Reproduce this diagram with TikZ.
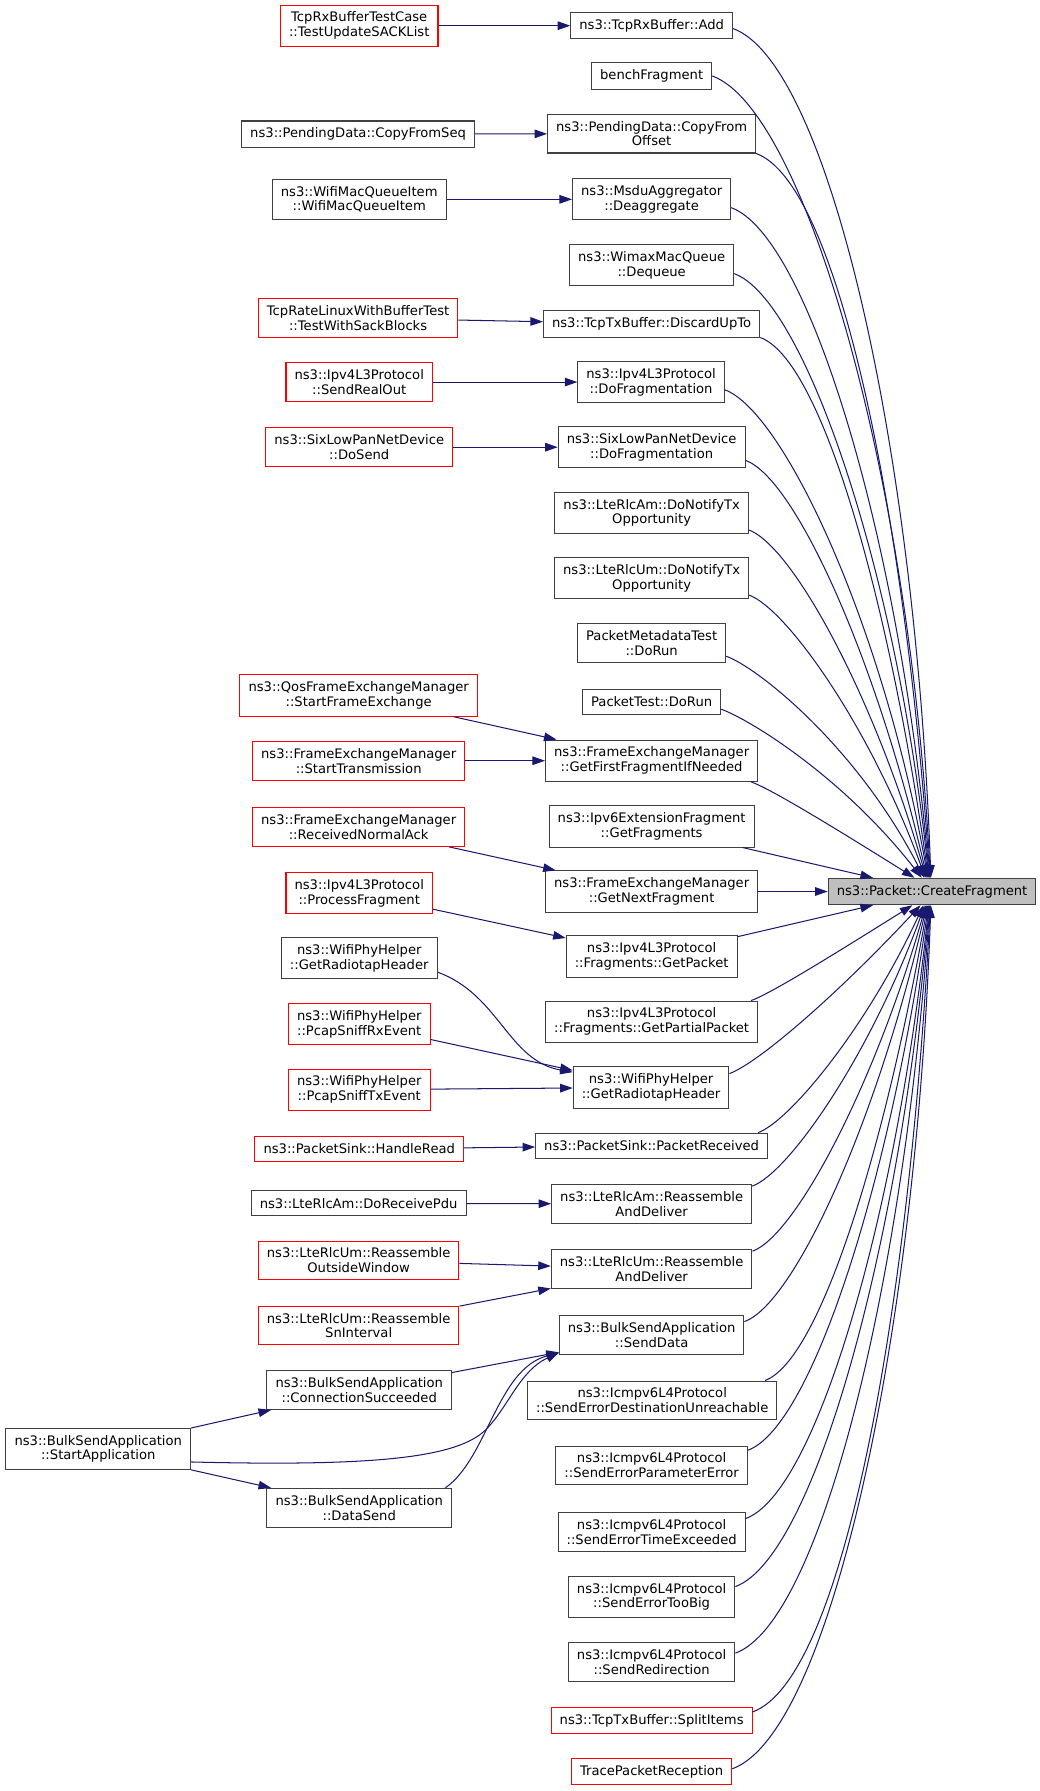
\documentclass[tikz,border=0pt]{standalone}
\usepackage{fontspec}
\setmainfont{DejaVu Sans}
\usetikzlibrary{arrows.meta}
\definecolor{edgeblue}{HTML}{191970}
\definecolor{boxgrey}{HTML}{404040}
\definecolor{mainfill}{HTML}{BFBFBF}
\tikzset{
    fn/.style={draw=boxgrey, line width=0.9pt, fill=white, align=center, inner xsep=7.5pt, inner ysep=6pt, minimum height=22pt, font=\fontsize{11.5}{13}\selectfont},
    fnred/.style={fn, draw=red},
    fnmain/.style={fn, fill=mainfill},
    call/.style={edgeblue, line width=0.9pt, -{Triangle[length=11pt, width=7.5pt]}},
    fromabove/.style={out=-20, in=#1, out looseness=0.3, in looseness=1.25},
    frombelow/.style={out=20, in=#1, out looseness=0.3, in looseness=1.25}
}
\begin{document}
\begin{tikzpicture}[x=1pt, y=1pt]
            \useasboundingbox (0, 0) rectangle (910.5, -1568);
            \node[fnmain] (cf) at (816, -780.5) {ns3::Packet::CreateFragment};
            \node[fn] (add) at (570.5, -22.5) {ns3::TcpRxBuffer::Add};
            \node[fn] (bench) at (570.5, -66.5) {benchFragment};
            \node[fn] (copyoff) at (570.5, -117) {ns3::PendingData::CopyFrom\\Offset};
            \node[fn] (deagg) at (570.5, -174.5) {ns3::MsduAggregator\\::Deaggregate};
            \node[fn] (dequeue) at (570.5, -232) {ns3::WimaxMacQueue\\::Dequeue};
            \node[fn] (discard) at (570.5, -283.5) {ns3::TcpTxBuffer::DiscardUpTo};
            \node[fn] (ipv4frag) at (570, -334.5) {ns3::Ipv4L3Protocol\\::DoFragmentation};
            \node[fn] (sixfrag) at (570.5, -391.5) {ns3::SixLowPanNetDevice\\::DoFragmentation};
            \node[fn] (amtx) at (570.5, -449) {ns3::LteRlcAm::DoNotifyTx\\Opportunity};
            \node[fn] (umtx) at (570.5, -506) {ns3::LteRlcUm::DoNotifyTx\\Opportunity};
            \node[fn] (metarun) at (570.5, -563) {PacketMetadataTest\\::DoRun};
            \node[fn] (pktrun) at (570.5, -614.5) {PacketTest::DoRun};
            \node[fn] (firstfrag) at (570.5, -666) {ns3::FrameExchangeManager\\::GetFirstFragmentIfNeeded};
            \node[fn] (v6frags) at (570.5, -723.5) {ns3::Ipv6ExtensionFragment\\::GetFragments};
            \node[fn] (nextfrag) at (570.5, -780.5) {ns3::FrameExchangeManager\\::GetNextFragment};
            \node[fn] (getpkt) at (570.5, -837.5) {ns3::Ipv4L3Protocol\\::Fragments::GetPacket};
            \node[fn] (partpkt) at (570.5, -894.5) {ns3::Ipv4L3Protocol\\::Fragments::GetPartialPacket};
            \node[fn] (radiohdr) at (570, -952) {ns3::WifiPhyHelper\\::GetRadiotapHeader};
            \node[fn] (pktrecv) at (570.5, -1003) {ns3::PacketSink::PacketReceived};
            \node[fn] (amreasm) at (570.5, -1054) {ns3::LteRlcAm::Reassemble\\AndDeliver};
            \node[fn] (umreasm) at (570.5, -1111) {ns3::LteRlcUm::Reassemble\\AndDeliver};
            \node[fn] (senddata) at (570.5, -1168.5) {ns3::BulkSendApplication\\::SendData};
            \node[fn] (errdest) at (571, -1226) {ns3::Icmpv6L4Protocol\\::SendErrorDestinationUnreachable};
            \node[fn] (errparam) at (570.5, -1283) {ns3::Icmpv6L4Protocol\\::SendErrorParameterError};
            \node[fn] (errtime) at (570.5, -1341) {ns3::Icmpv6L4Protocol\\::SendErrorTimeExceeded};
            \node[fn] (errbig) at (570.5, -1398) {ns3::Icmpv6L4Protocol\\::SendErrorTooBig};
            \node[fn] (redirect) at (570.5, -1455) {ns3::Icmpv6L4Protocol\\::SendRedirection};
            \node[fnred] (splititems) at (570.5, -1506.5) {ns3::TcpTxBuffer::SplitItems};
            \node[fnred] (tracerx) at (570.5, -1551) {TracePacketReception};
            \node[fnred] (sacktest) at (314.5, -22.5) {TcpRxBufferTestCase\\::TestUpdateSACKList};
            \node[fn] (copyseq) at (313.5, -117.5) {ns3::PendingData::CopyFromSeq};
            \node[fn] (macitem) at (314.5, -174.5) {ns3::WifiMacQueueItem\\::WifiMacQueueItem};
            \node[fnred] (sackblocks) at (313.5, -278.5) {TcpRateLinuxWithBufferTest\\::TestWithSackBlocks};
            \node[fnred] (sendrealout) at (314.5, -334.5) {ns3::Ipv4L3Protocol\\::SendRealOut};
            \node[fnred] (dosend) at (314.5, -391.5) {ns3::SixLowPanNetDevice\\::DoSend};
            \node[fnred] (qosstart) at (314, -609) {ns3::QosFrameExchangeManager\\::StartFrameExchange};
            \node[fnred] (femstart) at (314, -666) {ns3::FrameExchangeManager\\::StartTransmission};
            \node[fnred] (normalack) at (314, -724) {ns3::FrameExchangeManager\\::ReceivedNormalAck};
            \node[fnred] (procfrag) at (314.5, -782) {ns3::Ipv4L3Protocol\\::ProcessFragment};
            \node[fn] (radiohdrold) at (314.5, -839) {ns3::WifiPhyHelper\\::GetRadiotapHeader};
            \node[fnred] (rxevent) at (314.5, -896.5) {ns3::WifiPhyHelper\\::PcapSniffRxEvent};
            \node[fnred] (txevent) at (314.5, -954) {ns3::WifiPhyHelper\\::PcapSniffTxEvent};
            \node[fnred] (handleread) at (314.5, -1006) {ns3::PacketSink::HandleRead};
            \node[fn] (recvpdu) at (314, -1053.5) {ns3::LteRlcAm::DoReceivePdu};
            \node[fnred] (outsidewin) at (314, -1103.5) {ns3::LteRlcUm::Reassemble\\OutsideWindow};
            \node[fnred] (sninterval) at (314, -1160.5) {ns3::LteRlcUm::Reassemble\\SnInterval};
            \node[fn] (connok) at (314.5, -1217) {ns3::BulkSendApplication\\::ConnectionSucceeded};
            \node[fn] (datasend) at (314.5, -1320) {ns3::BulkSendApplication\\::DataSend};
            \node[fn] (startapp) at (86, -1268.5) {ns3::BulkSendApplication\\::StartApplication};
            \draw[call] (add.-2) to[fromabove=92] (cf.95);
            \draw[call] (bench.east) to[fromabove=93] (cf.97);
            \draw[call] (copyoff.south east) to[fromabove=94] (cf.99);
            \draw[call] (deagg.-6) to[fromabove=95] (cf.101);
            \draw[call] (dequeue.-6) to[fromabove=96] (cf.103);
            \draw[call] (discard.south east) to[fromabove=98] (cf.105);
            \draw[call] (ipv4frag.-6) to[fromabove=100] (cf.107);
            \draw[call] (sixfrag.-8) to[fromabove=103] (cf.110);
            \draw[call] (amtx.-10) to[fromabove=106] (cf.113);
            \draw[call] (umtx.-10) to[fromabove=110] (cf.116);
            \draw[call] (metarun.-10) to[fromabove=117] (cf.120);
            \draw[call] (pktrun.-6) to[fromabove=128] (cf.127);
            \draw[call] (firstfrag.-12.5) to[fromabove=148] (cf.142);
            \draw[call] (v6frags) -- (cf);
            \draw[call] (nextfrag) -- (cf);
            \draw[call] (getpkt) -- (cf);
            \draw[call] (partpkt.12) to[frombelow=-148] (cf.-145);
            \draw[call] (radiohdr.10) to[frombelow=-133] (cf.-130);
            \draw[call] (pktrecv.7.5) to[frombelow=-115] (cf.-122);
            \draw[call] (amreasm.10) to[frombelow=-110] (cf.-118);
            \draw[call] (umreasm.10) to[frombelow=-106] (cf.-114);
            \draw[call] (senddata.8) to[frombelow=-103] (cf.-111);
            \draw[call] (errdest.10) to[frombelow=-100] (cf.-108);
            \draw[call] (errparam.9) to[frombelow=-98] (cf.-105);
            \draw[call] (errtime.8) to[frombelow=-96] (cf.-103);
            \draw[call] (errbig.7) to[frombelow=-95] (cf.-101);
            \draw[call] (redirect.6) to[frombelow=-94] (cf.-99);
            \draw[call] (splititems.5) to[frombelow=-93] (cf.-97);
            \draw[call] (tracerx.2.5) to[frombelow=-92] (cf.-95);
            \draw[call] (sacktest) -- (add);
            \draw[call] (copyseq) -- (copyoff);
            \draw[call] (macitem) -- (deagg);
            \draw[call] (sackblocks) -- (discard);
            \draw[call] (sendrealout) -- (ipv4frag);
            \draw[call] (dosend) -- (sixfrag);
            \draw[call] (qosstart) -- (firstfrag);
            \draw[call] (femstart) -- (firstfrag);
            \draw[call] (normalack) -- (nextfrag);
            \draw[call] (procfrag) -- (getpkt);
            \draw[call] (radiohdrold.-10) to[out=-20, in=170] (radiohdr.169);
            \draw[call] (rxevent) -- (radiohdr);
            \draw[call] (txevent) -- (radiohdr);
            \draw[call] (handleread) -- (pktrecv);
            \draw[call] (recvpdu) -- (amreasm);
            \draw[call] (outsidewin) -- (umreasm);
            \draw[call] (sninterval) -- (umreasm);
            \draw[call] (connok) -- (senddata);
            \draw[call] (datasend.13) to[out=35, in=195, out distance=45pt, in distance=56pt] (senddata.191);
            \draw[call] (startapp) -- (connok);
            \draw[call] (startapp.-8) .. controls (330, -1284) and (400, -1276) .. (425, -1252) .. controls (445, -1232) and (455, -1200) .. (senddata.191);
            \draw[call] (startapp) -- (datasend);
\end{tikzpicture}
\end{document}
